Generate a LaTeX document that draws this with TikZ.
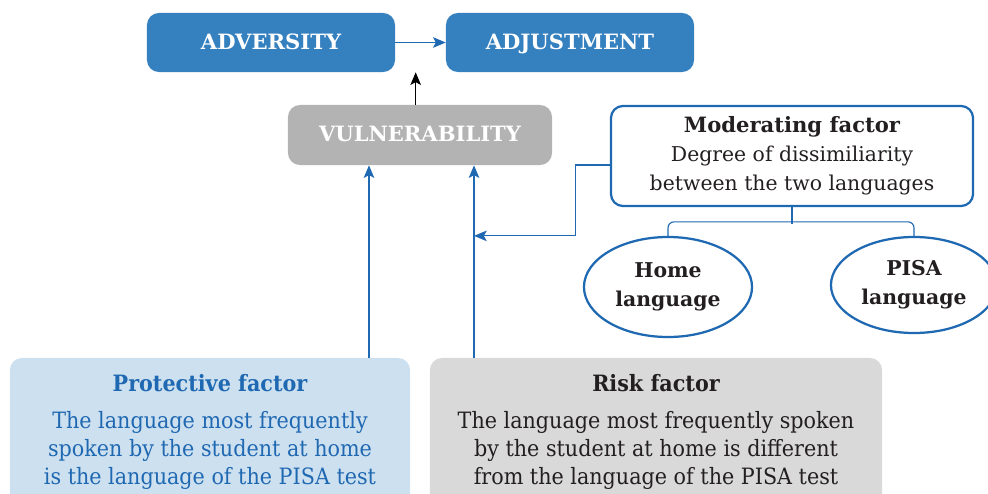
\documentclass[tikz,border=0pt]{standalone}
\usepackage{fontspec}
\setmainfont{DejaVu Serif}
\newfontfamily\narrowfont[FakeStretch=0.92]{DejaVu Serif}
\usepackage{xcolor}
\usetikzlibrary{shapes.geometric,arrows.meta,calc}

\definecolor{headblue}{HTML}{3580BF}
\definecolor{lineblue}{HTML}{1F68B2}
\definecolor{vulgray}{HTML}{B3B3B3}
\definecolor{protfill}{HTML}{CDE0EF}
\definecolor{riskfill}{HTML}{D9D9D9}
\definecolor{textdark}{HTML}{231F20}

\begin{document}
\begin{tikzpicture}[
    x=0.025cm, y=-0.025cm,
    headbox/.style={rectangle, fill=headblue, rounded corners=0.3cm, text=white, align=center, text height=1.9ex, text depth=0ex, minimum height=1.475cm, minimum width=6.2cm, font=\fontsize{15}{18}\selectfont\bfseries},
    vulbox/.style={rectangle, fill=vulgray, rounded corners=0.3cm, text=white, align=center, text height=1.9ex, text depth=0ex, minimum height=1.5cm, minimum width=6.6cm, font=\fontsize{15}{18}\selectfont\bfseries},
    modbox/.style={rectangle, draw=lineblue, line width=1.6pt, fill=white, rounded corners=0.3cm, text=textdark, align=center, minimum height=2.5cm, minimum width=9.05cm, font=\fontsize{14.5}{20.5}\selectfont},
    langell/.style={ellipse, draw=lineblue, line width=1.6pt, fill=white, text=textdark, align=center, inner sep=0pt, font=\fontsize{14.5}{20.5}\selectfont\bfseries},
    factbox/.style={rectangle, rounded corners=0.3cm, align=center, minimum height=3.7cm, font=\narrowfont\fontsize{16}{20}\selectfont},
    link/.style={draw=lineblue, line width=0.8pt},
    arrow/.style={-{Stealth[length=9pt, width=7.5pt, inset=2pt]}, draw=lineblue, line width=0.8pt},
    blackarrow/.style={-{Stealth[length=9pt, width=7.5pt, inset=2pt]}, draw=black, line width=0.8pt}
]
    \path [use as bounding box, clip] (0,0) rectangle (988,494);

    \node [headbox] (adv) at (271,42.5) {ADVERSITY};
    \node [headbox] (adj) at (570,42.5) {ADJUSTMENT};
    \node [vulbox] (vul) at (420,135) {VULNERABILITY};

    \node [modbox] (mod) at (792,156) {{\fontsize{15}{20.5}\selectfont\bfseries Moderating factor}\\Degree of dissimiliarity\\between the two languages};
    \node [langell, minimum width=4.2cm, minimum height=2.5cm] (home) at (668,287) {Home\\language};
    \node [langell, minimum width=4.15cm, minimum height=2.4cm] (pisa) at (914,285) {PISA\\language};

    \node [factbox, fill=protfill, text=lineblue, minimum width=10cm] (prot) at (210,432) {{\bfseries Protective factor}\\[6pt]The language most frequently\\spoken by the student at home\\is the language of the PISA test};
    \node [factbox, fill=riskfill, text=textdark, minimum width=11.3cm] (risk) at (656,432) {{\bfseries Risk factor}\\[6pt]The language most frequently spoken\\by the student at home is different\\from the language of the PISA test};

    % arrows into vulnerability
    \path ([xshift=-1.275cm]vul.south) coordinate (vp);
    \path ([xshift=1.35cm]vul.south) coordinate (vr);
    \draw [arrow] (vp |- prot.north) -- (vp);
    \draw [arrow] (vr |- risk.north) -- (vr);

    \draw [arrow] (adv) -- (adj);
    \draw [blackarrow] (vul.north -| adj.west) ++(-30,0) coordinate (vb) -- (vb |- adj.south);

    % moderating factor
    \draw [arrow] ([yshift=-0.225cm]mod.west) -- ++(-34,0) |- (vr |- home.north);
    \draw [link] (mod.south) -- ++(0,17);
    \draw [link, rounded corners=0.15cm] (home.north) -- ++(0,-14) -| (pisa.north);
\end{tikzpicture}
\end{document}
